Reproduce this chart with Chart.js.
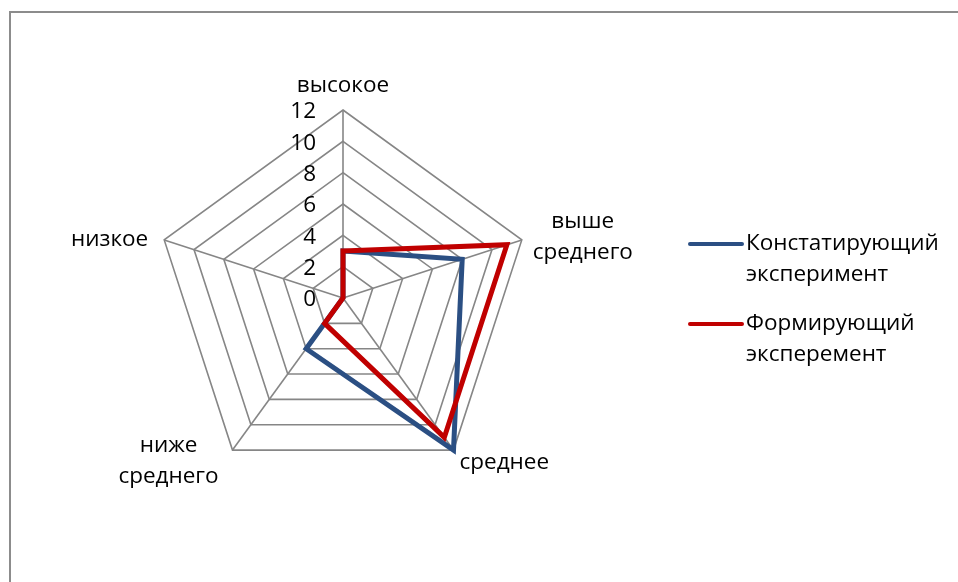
<!DOCTYPE html>
<html>
<head>
<meta charset="utf-8">
<script src="https://cdn.jsdelivr.net/npm/chart.js@4/dist/chart.umd.min.js"></script>
<style>
  html, body { margin: 0; padding: 0; background: #fff; }
  #wrap { position: relative; width: 958px; height: 582px; }
</style>
</head>
<body>
<div id="wrap"><canvas id="myChart" width="958" height="582"></canvas></div>
<script>
var categories = [["высокое"], ["выше", "среднего"], ["среднее"], ["ниже", "среднего"], ["низкое"]];
var seriesNames = [["Констатирующий", "эксперимент"], ["Формирующий", "эксперемент"]];
var constValues = [3, 8, 12, 4, 0];
var formValues = [3, 11, 11, 2, 0];
var tickLabels = [0, 2, 4, 6, 8, 10, 12];

var FONT = "22.5px 'Open Sans'";
var BLUE = "#2b4f83";
var RED = "#c00000";
var GRID = "#868686";

// labels, ticks, legend and frame drawn by hand
var decor = {
  id: "decor",
  afterDraw: function(chart) {
    var ctx = chart.ctx;
    var r = chart.scales.r;
    ctx.save();

    // frame (runs off the right and bottom edges)
    ctx.strokeStyle = "#8c8c8c";
    ctx.lineWidth = 2;
    ctx.beginPath();
    ctx.moveTo(10, 590);
    ctx.lineTo(10, 12);
    ctx.lineTo(970, 12);
    ctx.stroke();

    ctx.fillStyle = "#000";
    ctx.font = FONT;
    ctx.textBaseline = "middle";

    // tick labels, left of the top axis
    ctx.textAlign = "right";
    tickLabels.forEach(function(t) {
      var d = r.getDistanceFromCenterForValue(t);
      ctx.fillText(String(t), r.xCenter - 27, r.yCenter - d + 2);
    });

    // category labels: [dx, dy of first line, align]
    var offs = [[0, -24, "center"], [61, -18, "center"], [6, 12, "left"], [-64, -5, "center"], [-16, 0, "right"]];
    categories.forEach(function(lines, i) {
      var p = r.getPointPositionForValue(i, 12);
      var o = offs[i];
      ctx.textAlign = o[2];
      lines.forEach(function(s, k) {
        ctx.fillText(s, p.x + o[0], p.y + o[1] + k * 31);
      });
    });

    // legend
    var cols = [BLUE, RED];
    var ys = [244, 324];
    ctx.textAlign = "left";
    seriesNames.forEach(function(lines, i) {
      ctx.strokeStyle = cols[i];
      ctx.lineWidth = 4;
      ctx.lineCap = "round";
      ctx.beginPath();
      ctx.moveTo(690, ys[i]);
      ctx.lineTo(742, ys[i]);
      ctx.stroke();
      lines.forEach(function(s, k) {
        ctx.fillText(s, 746, ys[i] + k * 31);
      });
    });
    ctx.restore();
  }
};

new Chart(document.getElementById("myChart"), {
  type: "radar",
  data: {
    labels: categories,
    datasets: [
      {
        label: seriesNames[0].join(" "),
        data: constValues,
        borderColor: BLUE,
        borderWidth: 5,
        borderJoinStyle: "miter",
        fill: false,
        pointRadius: 0,
        order: 1
      },
      {
        label: seriesNames[1].join(" "),
        data: formValues,
        borderColor: RED,
        borderWidth: 5,
        borderJoinStyle: "miter",
        fill: false,
        pointRadius: 0,
        order: 0
      }
    ]
  },
  options: {
    responsive: false,
    animation: false,
    layout: { padding: { left: 155, right: 427, top: 110, bottom: 96 } },
    plugins: { legend: { display: false }, tooltip: { enabled: false } },
    scales: {
      r: {
        min: 0,
        max: 12,
        ticks: { stepSize: 2, display: false },
        pointLabels: { display: false },
        grid: { color: GRID, lineWidth: 1.6 },
        angleLines: { color: GRID, lineWidth: 1.6 }
      }
    }
  },
  plugins: [decor]
});
</script>
</body>
</html>
